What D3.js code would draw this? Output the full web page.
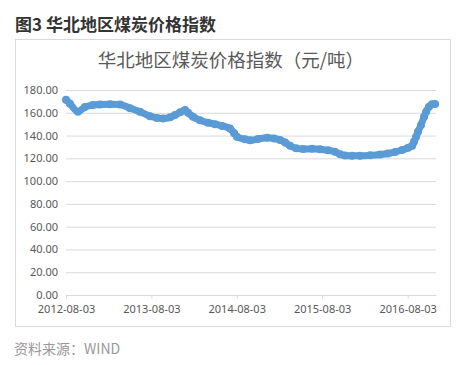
<!DOCTYPE html>
<html><head><meta charset="utf-8">
<script src="https://cdn.jsdelivr.net/npm/d3@7"></script>
<style>
html,body{margin:0;padding:0;background:#fff;}
svg{display:block;font-family:"Noto Sans CJK SC","Noto Sans",sans-serif;}
</style></head>
<body><svg id="c" width="459" height="365"></svg>
<script>
const dates = ["2012-08-03","2012-08-20","2012-09-23","2012-10-23","2012-11-26","2012-12-26","2013-02-07","2013-03-22","2013-05-04","2013-06-15","2013-07-28","2013-08-27","2013-09-22","2013-10-22","2013-11-12","2013-12-04","2013-12-25","2014-01-07","2014-01-28","2014-02-27","2014-04-02","2014-05-02","2014-06-01","2014-07-05","2014-07-23","2014-08-04","2014-09-08","2014-09-29","2014-11-02","2014-12-11","2015-01-10","2015-02-04","2015-02-26","2015-03-19","2015-04-14","2015-05-14","2015-06-21","2015-07-25","2015-08-29","2015-09-27","2015-10-19","2015-11-09","2015-12-09","2016-01-12","2016-02-24","2016-04-07","2016-05-11","2016-06-10","2016-07-10","2016-08-05","2016-08-22","2016-08-30","2016-09-08","2016-09-16","2016-09-29","2016-10-12","2016-10-21","2016-11-02","2016-11-15","2016-11-28"];
const values = [171.5,168,161,165,166.8,167.3,167.4,167.2,164,161,157,155.5,155,156,158,160.5,162.4,160,156.5,153.5,151.3,150,148.4,146.3,142,139,136.7,135.8,137,138.1,137.5,136.1,134,131,128.8,128.2,128.4,128,127,125.8,123.5,122.5,122.2,122.2,122.6,123.3,124.2,125.6,127.3,129.3,131,134.5,139,143.4,149.3,156.5,161,165.3,167.5,167.8];
const yTicks = [0,20,40,60,80,100,120,140,160,180];
const xTickLabels = ["2012-08-03","2013-08-03","2014-08-03","2015-08-03","2016-08-03"];
const heading = "图3 华北地区煤炭价格指数";
const chartTitle = "华北地区煤炭价格指数（元/吨）";
const source = "资料来源：WIND";

const parse = d3.timeParse("%Y-%m-%d");
const data = dates.map((d,i)=>({date:parse(d), value:values[i]}));
const svg = d3.select("#c");

svg.append("text").attr("x",15).attr("y",31).attr("font-size",17).attr("font-weight","bold").attr("fill","#333").text(heading);
svg.append("rect").attr("x",15.5).attr("y",39.5).attr("width",435).attr("height",287).attr("fill","#fff").attr("stroke","#d9d9d9");
svg.append("text").attr("x",231).attr("y",67).attr("text-anchor","middle").attr("font-size",18.5).attr("fill","#595959").text(chartTitle);
svg.append("text").attr("x",14).attr("y",354).attr("font-size",14).attr("fill","#999").text(source);

const x = d3.scaleTime().domain([parse("2012-08-03"), parse("2016-12-02")]).range([66,436]);
const y = d3.scaleLinear().domain([0,180]).range([295,90]);

const gy = svg.append("g").attr("transform","translate(66,0)")
  .call(d3.axisLeft(y).tickValues(yTicks).tickFormat(d3.format(".2f")).tickSize(-370).tickPadding(8));
gy.select(".domain").remove();
gy.selectAll(".tick line").attr("stroke","#d9d9d9");
gy.selectAll(".tick text").attr("font-size",11).attr("fill","#595959").attr("font-family","'Noto Sans',sans-serif");

const gx = svg.append("g").attr("transform","translate(0,295)")
  .call(d3.axisBottom(x).tickValues(xTickLabels.map(parse)).tickFormat(d3.timeFormat("%Y-%m-%d")).tickSize(4).tickSizeOuter(0).tickPadding(6));
gx.select(".domain").attr("stroke","#d9d9d9");
gx.selectAll(".tick line").attr("stroke","#d9d9d9");
gx.selectAll(".tick text").attr("font-size",11).attr("fill","#595959").attr("font-family","'Noto Sans',sans-serif");

const line = d3.line().x(d=>x(d.date)).y(d=>y(d.value)).curve(d3.curveMonotoneX);
svg.append("path").datum(data).attr("d",line).attr("fill","none").attr("stroke","#5B9BD5").attr("stroke-width",7).attr("stroke-linecap","round").attr("stroke-linejoin","round");
svg.append("g").selectAll("circle").data(data).join("circle")
  .attr("cx",d=>x(d.date)).attr("cy",d=>y(d.value)).attr("r",4).attr("fill","#5B9BD5");
</script></body></html>
